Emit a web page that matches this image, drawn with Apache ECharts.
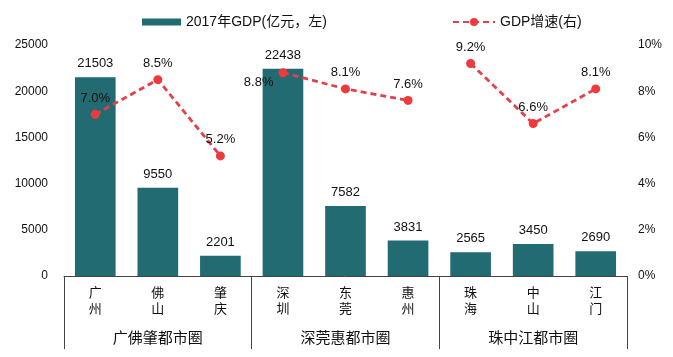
<!DOCTYPE html>
<html>
<head>
<meta charset="utf-8">
<script src="https://cdn.jsdelivr.net/npm/echarts@6/dist/echarts.min.js"></script>
<style>html,body{margin:0;padding:0;background:#fff;}#c{width:673px;height:357px;}</style>
</head>
<body>
<div id="c"></div>
<script>
var cities = ['广州','佛山','肇庆','深圳','东莞','惠州','珠海','中山','江门'];
var groups = ['广佛肇都市圈','深莞惠都市圈','珠中江都市圈'];
var gdp2017 = [21503, 9550, 2201, 22438, 7582, 3831, 2565, 3450, 2690];
var growthGroup1 = [7.0, 8.5, 5.2, null, null, null, null, null, null];
var growthGroup2 = [null, null, null, 8.8, 8.1, 7.6, null, null, null];
var growthGroup3 = [null, null, null, null, null, null, 9.2, 6.6, 8.1];
var barName = '2017年GDP(亿元，左)';
var lineName = 'GDP增速(右)';

var FONT = '"Liberation Sans", "Noto Sans CJK SC", sans-serif';
var barColor = '#236b72';
var lineColor = '#e2404a';
var dotColor = '#ee3a3a';

function lineSeries(data, special) {
  return {
    name: lineName,
    type: 'line',
    yAxisIndex: 1,
    data: data.map(function (v, i) {
      if (v === null) return null;
      if (special && special[i]) {
        return { value: v, label: special[i] };
      }
      return v;
    }),
    symbol: 'circle',
    symbolSize: 9,
    itemStyle: { color: dotColor },
    lineStyle: { color: lineColor, width: 2.8, type: [6, 4] },
    label: {
      show: true, position: 'top', distance: 5,
      formatter: function (p) { return p.value.toFixed(1) + '%'; },
      color: '#111', fontSize: 13, fontFamily: FONT
    },
    z: 5
  };
}

var chart = echarts.init(document.getElementById('c'));
chart.setOption({
  animation: false,
  backgroundColor: '#fff',
  textStyle: { fontFamily: FONT },
  legend: [
    {
      data: [{ name: barName, icon: 'rect' }], left: 137, top: 10, itemWidth: 39, itemHeight: 7, itemGap: 5,
      textStyle: { fontSize: 14, color: '#111', fontFamily: FONT }
    },
    {
      data: [lineName], left: 447, top: 10, itemWidth: 42, itemHeight: 10,
      textStyle: { fontSize: 14, color: '#111', fontFamily: FONT }
    }
  ],
  grid: { left: 64, right: 46, top: 45, bottom: 81, containLabel: false },
  xAxis: [
    {
      type: 'category', data: cities, position: 'bottom',
      axisLine: { show: true, lineStyle: { color: '#444', width: 1 } },
      axisTick: { show: false },
      axisLabel: {
        margin: 9, fontSize: 13, lineHeight: 16, color: '#111', fontFamily: FONT,
        formatter: function (v) { return v.split('').join('\n'); }
      }
    },
    {
      type: 'category', data: groups, position: 'bottom', gridIndex: 0,
      axisLine: { show: false },
      axisTick: { show: true, length: 73, lineStyle: { color: '#444', width: 1 } },
      axisLabel: { margin: 55, fontSize: 15, color: '#111', fontFamily: FONT }
    }
  ],
  yAxis: [
    {
      type: 'value', min: 0, max: 25000, interval: 5000,
      axisLine: { show: false }, axisTick: { show: false }, splitLine: { show: false },
      axisLabel: { margin: 16, fontSize: 12, color: '#111', fontFamily: FONT,
        formatter: function (v) { return String(v); } }
    },
    {
      type: 'value', min: 0, max: 10, interval: 2,
      axisLine: { show: false }, axisTick: { show: false }, splitLine: { show: false },
      axisLabel: { margin: 11, fontSize: 12, color: '#111', fontFamily: FONT, formatter: '{value}%' }
    }
  ],
  series: [
    {
      name: barName, type: 'bar', data: gdp2017, barWidth: '65%',
      itemStyle: { color: barColor },
      label: { show: true, position: 'top', distance: 7, color: '#111', fontSize: 13, fontFamily: FONT }
    },
    lineSeries(growthGroup1),
    lineSeries(growthGroup2, { 3: { position: 'left', distance: 5, offset: [0, 10] } }),
    lineSeries(growthGroup3)
  ]
});
</script>
</body>
</html>
